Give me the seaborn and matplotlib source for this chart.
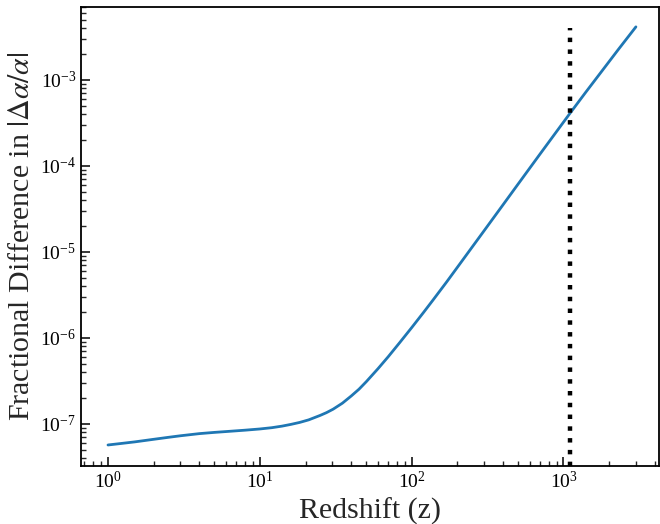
import numpy as np
import pandas as pd
import matplotlib
matplotlib.use("Agg")
import matplotlib.pyplot as plt
import seaborn as sns

# Data
redshift = [1.0, 1.2, 1.5, 2.0, 2.5, 3.0, 4.0, 5.0, 6.0, 8.0, 10.0, 12.0, 14.0, 16.0, 18.3,
            21.0, 25.0, 27.5, 30.4, 35.0, 40.0, 45.0, 50.3, 60.0, 70.0, 83.4, 100.0, 120.0,
            138.0, 170.0, 207.0, 250.0, 300.0, 400.0, 500.0, 700.0, 900.0, 1100.0, 1400.0,
            1700.0, 2300.0, 3000.0]
log_frac_diff = [-7.244, -7.228, -7.208, -7.178, -7.155, -7.137, -7.112, -7.098, -7.088, -7.072,
                 -7.058, -7.043, -7.025, -7.005, -6.982, -6.952, -6.900, -6.868, -6.828, -6.758,
                 -6.675, -6.596, -6.508, -6.358, -6.220, -6.055, -5.881, -5.702, -5.562, -5.350,
                 -5.144, -4.946, -4.755, -4.453, -4.218, -3.865, -3.603, -3.394, -3.147, -2.952,
                 -2.648, -2.386]
frac_diff = [10 ** v for v in log_frac_diff]
recombination_z = 1100.0
vline_top = 4.0e-3

df = pd.DataFrame({"z": redshift, "diff": frac_diff})

sns.set_style("ticks")
plt.rcParams["font.family"] = ["Liberation Serif", "DejaVu Serif"]
plt.rcParams["mathtext.fontset"] = "stix"

fig = plt.figure(figsize=(6.6, 5.24), dpi=100)
ax = fig.add_axes([0.1227, 0.1107, 0.8763, 0.8760])

sns.lineplot(data=df, x="z", y="diff", ax=ax, color="#1f77b4", linewidth=2.0)
ax.set_xscale("log")
ax.set_yscale("log")
ax.vlines(recombination_z, 1e-9, vline_top, colors="black", linestyles=":", linewidth=3.2)

ax.set_xlim(0.664, 4280)
ax.set_ylim(3.25e-8, 7.0e-3)

ax.set_xlabel("Redshift (z)", fontsize=21.5)
ax.set_ylabel(r"Fractional Difference in $|\Delta\alpha/\alpha|$", fontsize=21.5)

ax.tick_params(axis="both", which="major", direction="in", length=6.5, width=1.1,
               labelsize=14, top=False, right=False, colors="black")
ax.tick_params(axis="both", which="minor", direction="in", length=3.5, width=1.0,
               top=False, right=False)
ax.xaxis.set_minor_locator(matplotlib.ticker.LogLocator(base=10, subs=np.arange(2, 10), numticks=20))
ax.yaxis.set_minor_locator(matplotlib.ticker.LogLocator(base=10, subs=np.arange(2, 10), numticks=20))
ax.xaxis.set_minor_formatter(matplotlib.ticker.NullFormatter())
ax.yaxis.set_minor_formatter(matplotlib.ticker.NullFormatter())

for sp in ax.spines.values():
    sp.set_visible(True)
    sp.set_linewidth(1.3)
    sp.set_color("black")

fig.savefig("out.png", dpi=100)
